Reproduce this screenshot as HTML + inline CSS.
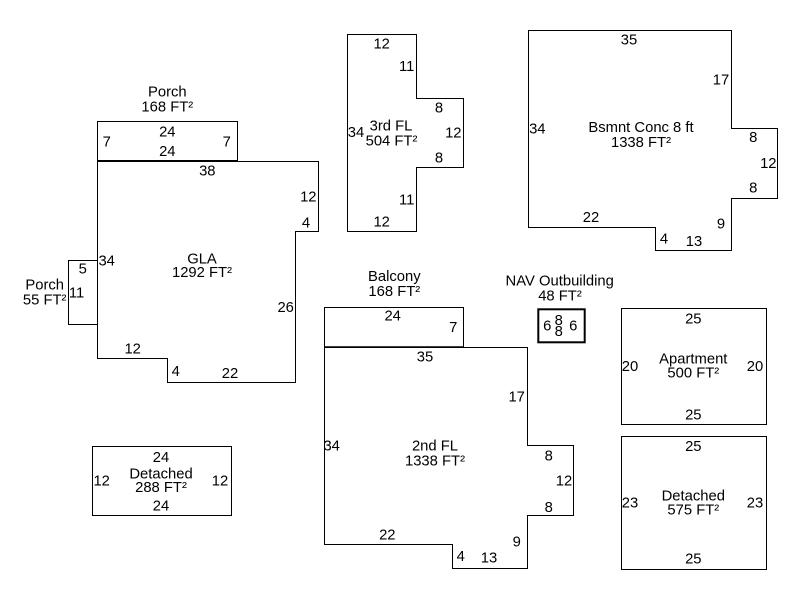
<!DOCTYPE html>
<html>
<head>
<meta charset="utf-8">
<style>
html,body{margin:0;padding:0;background:#fff;}
svg{display:block;}
text{font-family:"Liberation Sans",Arial,sans-serif;font-size:14.8px;fill:#000;text-anchor:middle;}
</style>
</head>
<body>
<svg width="800" height="600" viewBox="0 0 800 600" xmlns="http://www.w3.org/2000/svg">
<g fill="none" stroke="#000" stroke-width="1">
  <!-- Porch top -->
  <rect x="97.5" y="121.5" width="140" height="40"/>
  <!-- GLA -->
  <polygon points="97.5,161.5 318.5,161.5 318.5,231.5 295.5,231.5 295.5,382.5 167.5,382.5 167.5,358.5 97.5,358.5"/>
  <line x1="97" y1="161" x2="238" y2="161" stroke-width="2"/>
  <!-- small porch -->
  <rect x="68.5" y="260.5" width="29" height="64"/>
  <!-- 3rd FL -->
  <polygon points="347.5,34.5 416.5,34.5 416.5,98.5 463.5,98.5 463.5,167.5 416.5,167.5 416.5,231.5 347.5,231.5"/>
  <!-- Bsmnt -->
  <polygon points="528.5,30.5 731.5,30.5 731.5,128.5 777.5,128.5 777.5,198.5 731.5,198.5 731.5,250.5 655.5,250.5 655.5,227.5 528.5,227.5"/>
  <!-- Balcony -->
  <rect x="324.5" y="307.5" width="139" height="40"/>
  <!-- 2nd FL -->
  <polygon points="324.5,347.5 527.5,347.5 527.5,445.5 573.5,445.5 573.5,515.5 527.5,515.5 527.5,568.5 452.5,568.5 452.5,544.5 324.5,544.5"/>
  <line x1="324" y1="347" x2="464" y2="347" stroke-width="1.5"/>
  <!-- NAV -->
  <rect x="538.3" y="309.3" width="46.4" height="33" stroke-width="2"/>
  <!-- Apartment -->
  <rect x="621.5" y="308.5" width="145" height="116"/>
  <!-- Detached right -->
  <rect x="621.5" y="436.5" width="145" height="133"/>
  <!-- Detached left -->
  <rect x="92.5" y="446.5" width="139" height="69"/>
</g>
<g>
  <!-- Porch top -->
  <text x="167.3" y="96.3">Porch</text>
  <text x="167.3" y="111.3">168 FT²</text>
  <text x="167.3" y="136.3">24</text>
  <text x="167.3" y="156">24</text>
  <text x="106.7" y="146.3">7</text>
  <text x="226.7" y="146.3">7</text>
  <!-- GLA -->
  <text x="207.3" y="175.3">38</text>
  <text x="308.3" y="201.3">12</text>
  <text x="306" y="227.6">4</text>
  <text x="202" y="263.6">GLA</text>
  <text x="202" y="277">1292 FT²</text>
  <text x="106.7" y="265.6">34</text>
  <text x="285.7" y="312">26</text>
  <text x="132.7" y="353.6">12</text>
  <text x="175.7" y="376">4</text>
  <text x="230" y="378">22</text>
  <!-- small porch -->
  <text x="82.7" y="273.3">5</text>
  <text x="76.5" y="297.3">11</text>
  <text x="44.7" y="289.5">Porch</text>
  <text x="44.7" y="304.3">55 FT²</text>
  <!-- 3rd FL -->
  <text x="381.7" y="48.6">12</text>
  <text x="406.7" y="71">11</text>
  <text x="439" y="112.6">8</text>
  <text x="453.3" y="137.6">12</text>
  <text x="356" y="137">34</text>
  <text x="391" y="130.3">3rd FL</text>
  <text x="391.5" y="145.3">504 FT²</text>
  <text x="439" y="162.6">8</text>
  <text x="406.7" y="204.3">11</text>
  <text x="381.7" y="226.6">12</text>
  <!-- Bsmnt -->
  <text x="629" y="44.3">35</text>
  <text x="721" y="84.3">17</text>
  <text x="537.3" y="133.6">34</text>
  <text x="641" y="132">Bsmnt Conc 8 ft</text>
  <text x="641" y="147">1338 FT²</text>
  <text x="753.3" y="142">8</text>
  <text x="768.3" y="168">12</text>
  <text x="753.3" y="192.6">8</text>
  <text x="591" y="222">22</text>
  <text x="721" y="228.6">9</text>
  <text x="664" y="243.6">4</text>
  <text x="694" y="246">13</text>
  <!-- Balcony / 2nd FL -->
  <text x="394.3" y="281">Balcony</text>
  <text x="394.3" y="296">168 FT²</text>
  <text x="392.7" y="320.3">24</text>
  <text x="453.3" y="332">7</text>
  <text x="425" y="361.3">35</text>
  <text x="516.7" y="401.3">17</text>
  <text x="331.7" y="450.3">34</text>
  <text x="435" y="450.3">2nd FL</text>
  <text x="435" y="465.3">1338 FT²</text>
  <text x="548.7" y="460.3">8</text>
  <text x="564" y="485.3">12</text>
  <text x="548.7" y="512">8</text>
  <text x="387.3" y="539.6">22</text>
  <text x="516.7" y="546.3">9</text>
  <text x="460.7" y="561">4</text>
  <text x="489" y="562.6">13</text>
  <!-- NAV -->
  <text x="559.7" y="285.3">NAV Outbuilding</text>
  <text x="560" y="300.7">48 FT²</text>
  <text x="547.3" y="330.3">6</text>
  <text x="558.7" y="325">8</text>
  <text x="558.7" y="336">8</text>
  <text x="573.3" y="330.3">6</text>
  <!-- Apartment -->
  <text x="693.3" y="323.6">25</text>
  <text x="630" y="371">20</text>
  <text x="693.3" y="363.6">Apartment</text>
  <text x="693.3" y="377.6">500 FT²</text>
  <text x="755" y="371">20</text>
  <text x="693.3" y="419.3">25</text>
  <!-- Detached right -->
  <text x="693.3" y="451">25</text>
  <text x="630" y="507.6">23</text>
  <text x="693.3" y="500.3">Detached</text>
  <text x="693.3" y="514.6">575 FT²</text>
  <text x="755" y="507.6">23</text>
  <text x="693.3" y="563.6">25</text>
  <!-- Detached left -->
  <text x="161" y="462">24</text>
  <text x="101.7" y="485.3">12</text>
  <text x="161" y="478.6">Detached</text>
  <text x="161" y="492">288 FT²</text>
  <text x="220" y="485.3">12</text>
  <text x="161" y="510.3">24</text>
</g>
</svg>
</body>
</html>
